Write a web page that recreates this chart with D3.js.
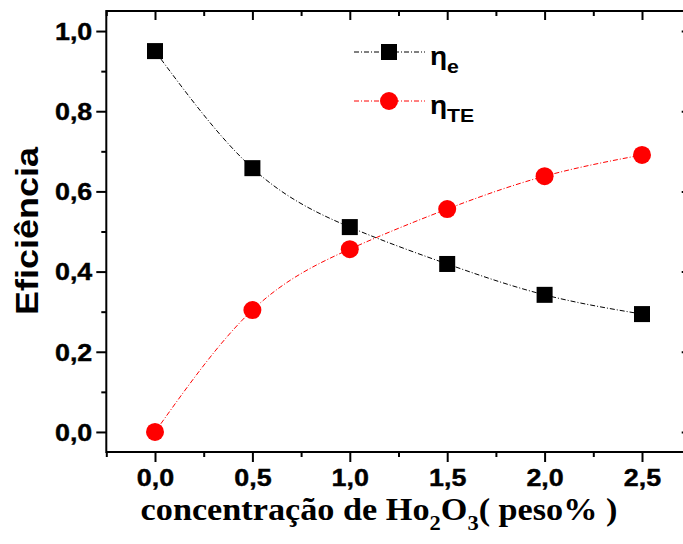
<!DOCTYPE html>
<html>
<head>
<meta charset="utf-8">
<script src="https://cdn.jsdelivr.net/npm/d3@7"></script>
<style>
  html, body { margin: 0; padding: 0; background: #fff; }
  svg { display: block; }
</style>
</head>
<body>
<svg id="chart" width="683" height="544"></svg>
<script>
// Concentration of Ho2O3 (weight %)
const concentracao = [0.0, 0.5, 1.0, 1.5, 2.0, 2.5];
// efficiency series
const etaE  = [0.950, 0.658, 0.511, 0.419, 0.342, 0.294];
const etaTE = [0.000, 0.304, 0.456, 0.556, 0.638, 0.691];
// tick labels
const xTicks = [0.0, 0.5, 1.0, 1.5, 2.0, 2.5];
const yTicks = [0.0, 0.2, 0.4, 0.6, 0.8, 1.0];
const xMinor = [-0.25, 0.25, 0.75, 1.25, 1.75, 2.25, 2.75];
const yMinor = [0.1, 0.3, 0.5, 0.7, 0.9];

const svg = d3.select("#chart");
const pLeft = 106.3, pRight = 690.7, pTop = 11, pBottom = 452;

const x = d3.scaleLinear().domain([-0.25, 2.75]).range([pLeft, pRight]);
const y = d3.scaleLinear().domain([-0.05, 1.05]).range([pBottom, pTop]);

const fmt = d => d3.format(".1f")(d).replace(".", ",");
const sx = 1.12; // horizontal stretch of the lettering
const sans = "Arial, 'Liberation Sans', sans-serif";

// frame
svg.append("rect")
  .attr("x", pLeft).attr("y", pTop)
  .attr("width", pRight - pLeft).attr("height", pBottom - pTop)
  .attr("fill", "none").attr("stroke", "#000").attr("stroke-width", 2);

function tickStyle(g) {
  g.select(".domain").remove();
  g.selectAll("line").attr("stroke", "#000").attr("stroke-width", 2);
}

// bottom axis (outward ticks)
const gx = svg.append("g").attr("transform", `translate(0,${pBottom})`)
  .call(d3.axisBottom(x).tickValues(xTicks).tickSize(10).tickFormat(fmt))
  .call(tickStyle);
gx.selectAll("text")
  .attr("font-family", sans)
  .attr("font-weight", "bold").attr("font-size", 24).attr("fill", "#000")
  .attr("stroke", "#000").attr("stroke-width", 0.4)
  .attr("y", 0).attr("dy", 0)
  .attr("transform", `translate(0,34) scale(${sx},1)`);
svg.append("g").attr("transform", `translate(0,${pBottom})`)
  .call(d3.axisBottom(x).tickValues(xMinor).tickSize(5).tickFormat(""))
  .call(tickStyle);

// left axis (outward ticks)
const gy = svg.append("g").attr("transform", `translate(${pLeft},0)`)
  .call(d3.axisLeft(y).tickValues(yTicks).tickSize(10).tickFormat(fmt))
  .call(tickStyle);
gy.selectAll("text")
  .attr("font-family", sans)
  .attr("font-weight", "bold").attr("font-size", 24).attr("fill", "#000")
  .attr("stroke", "#000").attr("stroke-width", 0.4)
  .attr("x", 0).attr("dy", "0.35em")
  .attr("transform", `translate(-14,0) scale(${sx},1)`);
svg.append("g").attr("transform", `translate(${pLeft},0)`)
  .call(d3.axisLeft(y).tickValues(yMinor).tickSize(5).tickFormat(""))
  .call(tickStyle);

// top axis (inward ticks)
svg.append("g").attr("transform", `translate(0,${pTop})`)
  .call(d3.axisTop(x).tickValues(xTicks).tickSize(-9).tickFormat(""))
  .call(tickStyle);
svg.append("g").attr("transform", `translate(0,${pTop})`)
  .call(d3.axisTop(x).tickValues(xMinor).tickSize(-5).tickFormat(""))
  .call(tickStyle);

// right axis (inward ticks)
svg.append("g").attr("transform", `translate(${pRight},0)`)
  .call(d3.axisRight(y).tickValues(yTicks).tickSize(-9).tickFormat(""))
  .call(tickStyle);
svg.append("g").attr("transform", `translate(${pRight},0)`)
  .call(d3.axisRight(y).tickValues(yMinor).tickSize(-5).tickFormat(""))
  .call(tickStyle);

// series
const line = d3.line().x(d => x(d[0])).y(d => y(d[1])).curve(d3.curveNatural);
const dash = "5,2,1,2";
const dataE = concentracao.map((c, i) => [c, etaE[i]]);
const dataTE = concentracao.map((c, i) => [c, etaTE[i]]);

svg.append("path").datum(dataE).attr("d", line)
  .attr("fill", "none").attr("stroke", "#000").attr("stroke-width", 1)
  .attr("stroke-dasharray", dash);
svg.append("path").datum(dataTE).attr("d", line)
  .attr("fill", "none").attr("stroke", "#ff0000").attr("stroke-width", 1)
  .attr("stroke-dasharray", dash);

const sq = 16, r = 9;
svg.append("g").selectAll("rect").data(dataE).join("rect")
  .attr("x", d => x(d[0]) - sq / 2).attr("y", d => y(d[1]) - sq / 2)
  .attr("width", sq).attr("height", sq).attr("fill", "#000");
svg.append("g").selectAll("circle").data(dataTE).join("circle")
  .attr("cx", d => x(d[0])).attr("cy", d => y(d[1])).attr("r", r)
  .attr("fill", "#ff0000");

// legend
const legend = svg.append("g");
const legItems = [
  { sub: "e", color: "#000", shape: "square", yy: 52 },
  { sub: "TE", color: "#ff0000", shape: "circle", yy: 101 }
];
legItems.forEach(it => {
  legend.append("line").attr("x1", 354).attr("x2", 425)
    .attr("y1", it.yy).attr("y2", it.yy)
    .attr("stroke", it.color).attr("stroke-width", 1).attr("stroke-dasharray", dash);
  if (it.shape === "square") {
    legend.append("rect").attr("x", 389 - sq / 2).attr("y", it.yy - sq / 2)
      .attr("width", sq).attr("height", sq).attr("fill", it.color);
  } else {
    legend.append("circle").attr("cx", 389).attr("cy", it.yy).attr("r", r)
      .attr("fill", it.color);
  }
  const t = legend.append("text")
    .attr("transform", `translate(430,${it.yy + 13}) scale(${sx},1)`)
    .attr("font-family", sans)
    .attr("font-weight", "bold").attr("font-size", 25).attr("fill", "#000");
  t.append("tspan").text("η");
  t.append("tspan").attr("font-size", 19).attr("dy", 8).text(it.sub);
});

// axis titles
svg.append("text")
  .attr("transform", `translate(38,231) rotate(-90) scale(1.16,1)`)
  .attr("text-anchor", "middle")
  .attr("font-family", sans)
  .attr("font-weight", "bold").attr("font-size", 31).attr("fill", "#000")
  .text("Eficiência");

const xt = svg.append("text")
  .attr("transform", `translate(379,520) scale(1.07,1)`)
  .attr("text-anchor", "middle")
  .attr("font-family", "'Liberation Serif', 'Times New Roman', serif")
  .attr("font-weight", "bold").attr("font-size", 32).attr("fill", "#000");
xt.append("tspan").text("concentração de Ho");
xt.append("tspan").attr("font-size", 21).attr("dy", 10).text("2");
xt.append("tspan").attr("dy", -10).text("O");
xt.append("tspan").attr("font-size", 21).attr("dy", 10).text("3");
xt.append("tspan").attr("dy", -10).text("( peso% )");
</script>
</body>
</html>
